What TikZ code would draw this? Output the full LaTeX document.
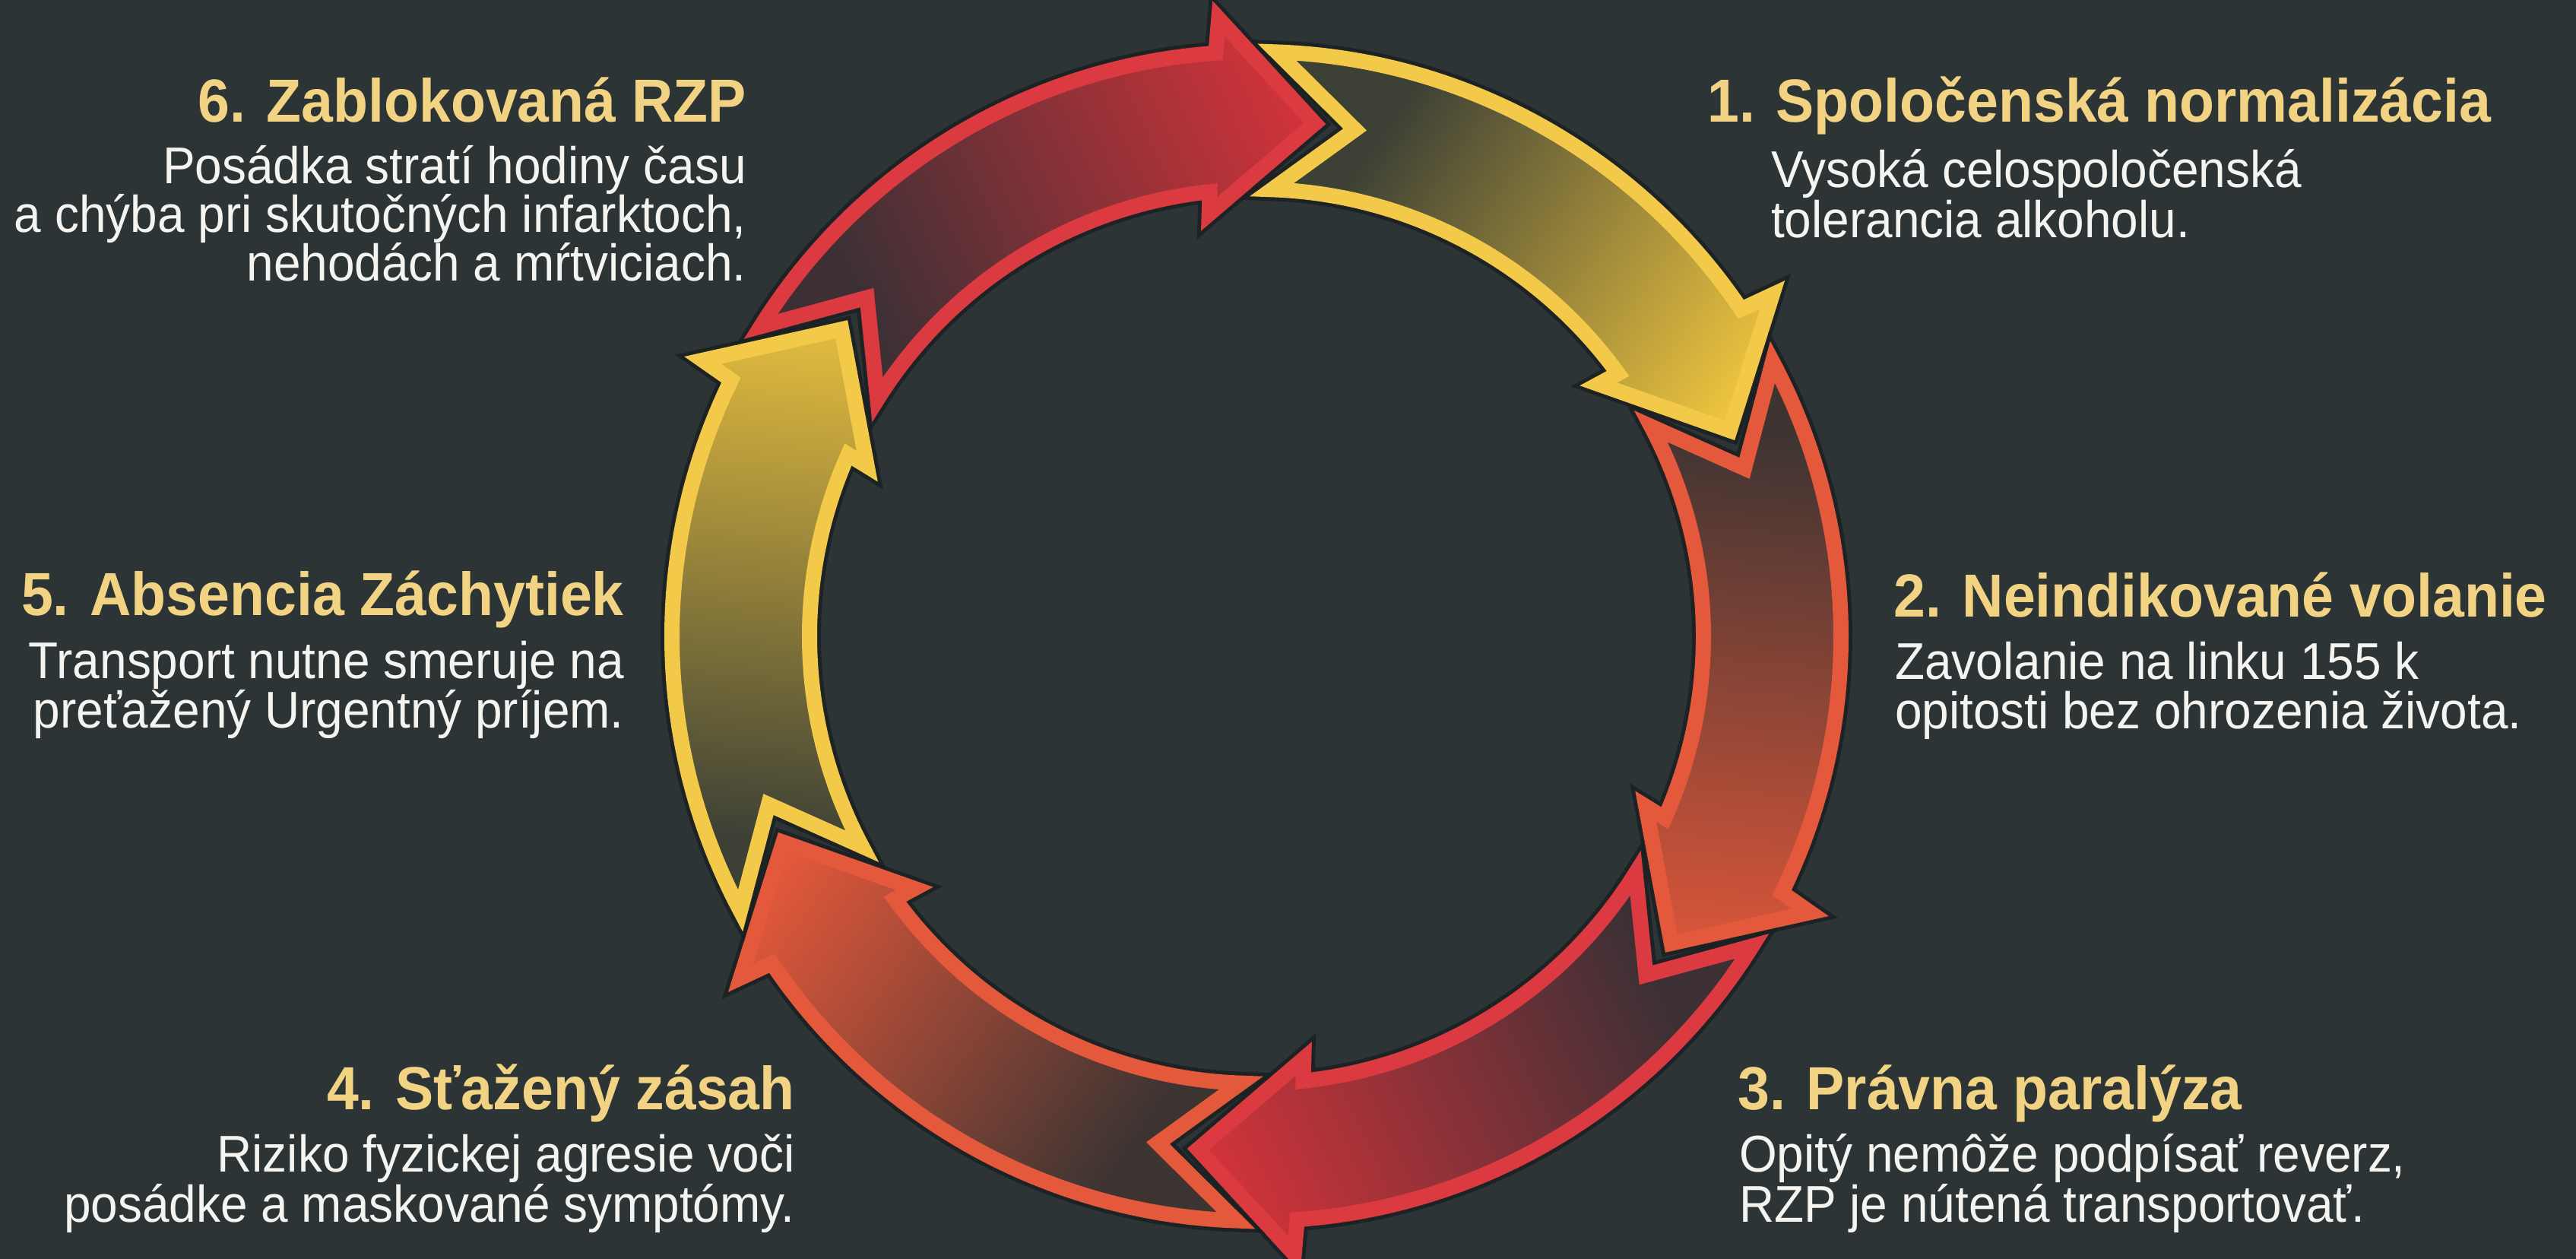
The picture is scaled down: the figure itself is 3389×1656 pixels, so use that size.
\documentclass[tikz,border=0pt]{standalone}
\usepackage{fontspec}
\setmainfont[FakeStretch=0.94]{Liberation Sans}
\definecolor{bg}{HTML}{2C3436}
\definecolor{halo}{HTML}{1A1F20}
\definecolor{yline}{HTML}{F3C94A}
\definecolor{yfill}{HTML}{EFC53F}
\definecolor{ydk}{HTML}{3C4035}
\definecolor{oline}{HTML}{E4583C}
\definecolor{ofill}{HTML}{E4583A}
\definecolor{odk}{HTML}{3D3432}
\definecolor{rline}{HTML}{DA3A40}
\definecolor{rfill}{HTML}{D8333A}
\definecolor{rdk}{HTML}{3C3035}
\definecolor{headc}{HTML}{F1D383}
\definecolor{bodyc}{HTML}{F4F4F0}
\pgfdeclarehorizontalshading{shY}{100bp}{color(0bp)=(ydk); color(30bp)=(ydk); color(80bp)=(yfill); color(100bp)=(yfill)}
\pgfdeclarehorizontalshading{shO}{100bp}{color(0bp)=(odk); color(30bp)=(odk); color(80bp)=(ofill); color(100bp)=(ofill)}
\pgfdeclarehorizontalshading{shR}{100bp}{color(0bp)=(rdk); color(30bp)=(rdk); color(80bp)=(rfill); color(100bp)=(rfill)}
\tikzset{
  arrowsty/.style={line width=20, line join=miter, miter limit=8,
    preaction={draw=halo, line width=30, opacity=0.8, line join=miter, miter limit=8}},
  hd/.style={font=\fontsize{80}{80}\selectfont\bfseries, text=headc, inner sep=0},
  bd/.style={font=\fontsize{68}{64}\selectfont, text=bodyc, inner sep=0}
}
\newcommand{\cycarrow}[3]{%
  \pgfmathsetmacro{\shang}{#1-123}%
  \shadedraw[arrowsty, shading=#2, shading angle=\shang, draw=#3]
    (#1:769) arc[start angle=#1, end angle={#1-54}, radius=769]
    -- ({#1-54.5}:814) -- ({#1-64.5}:679) -- ({#1-51.6}:559) -- ({#1-52}:588)
    arc[start angle={#1-52}, end angle=#1, radius=588]
    -- ({#1-9}:679) -- cycle;}
\begin{document}
\begin{tikzpicture}[x=1pt, y=1pt]
\fill[bg] (0,0) rectangle (3389,1656);
\useasboundingbox (0,0) rectangle (3389,1656);
\begin{scope}[shift={(1653,819)}]
  \cycarrow{88}{shY}{yline}
  \cycarrow{28}{shO}{oline}
  \cycarrow{-32}{shR}{rline}
  \cycarrow{-92}{shO}{oline}
  \cycarrow{-152}{shY}{yline}
  \cycarrow{148}{shR}{rline}
\end{scope}
% right side texts
\node[hd, anchor=base west] (h1) at (2246,1495) {1. Spoločenská normalizácia};
\node[bd, anchor=base west] (b1a) at (2330,1409) {Vysoká celospoločenská};
\node[bd, anchor=base west] (b1b) at (2330,1343) {tolerancia alkoholu.};
\node[hd, anchor=base west] (h2) at (2491,844) {2. Neindikované volanie};
\node[bd, anchor=base west] (b2a) at (2493,762) {Zavolanie na linku 155 k};
\node[bd, anchor=base west] (b2b) at (2493,697) {opitosti bez ohrozenia života.};
\node[hd, anchor=base west] (h3) at (2286,196) {3. Právna paralýza};
\node[bd, anchor=base west] (b3a) at (2288,114) {Opitý nemôže podpísať reverz,};
\node[bd, anchor=base west] (b3b) at (2288,48) {RZP je nútená transportovať.};
% left side texts
\node[hd, anchor=base east] (h4) at (1046,196) {4. Sťažený zásah};
\node[bd, anchor=base east] (b4a) at (1046,114) {Riziko fyzickej agresie voči};
\node[bd, anchor=base east] (b4b) at (1046,48) {posádke a maskované symptómy.};
\node[hd, anchor=base east] (h5) at (821,846) {5. Absencia Záchytiek};
\node[bd, anchor=base east] (b5a) at (821,763) {Transport nutne smeruje na};
\node[bd, anchor=base east] (b5b) at (821,698) {preťažený Urgentný príjem.};
\node[hd, anchor=base east] (h6) at (982,1495) {6. Zablokovaná RZP};
\node[bd, anchor=base east] (b6a) at (982,1414) {Posádka stratí hodiny času};
\node[bd, anchor=base east] (b6b) at (982,1350) {a chýba pri skutočných infarktoch,};
\node[bd, anchor=base east] (b6c) at (982,1286) {nehodách a mŕtviciach.};
\end{tikzpicture}
\end{document}
